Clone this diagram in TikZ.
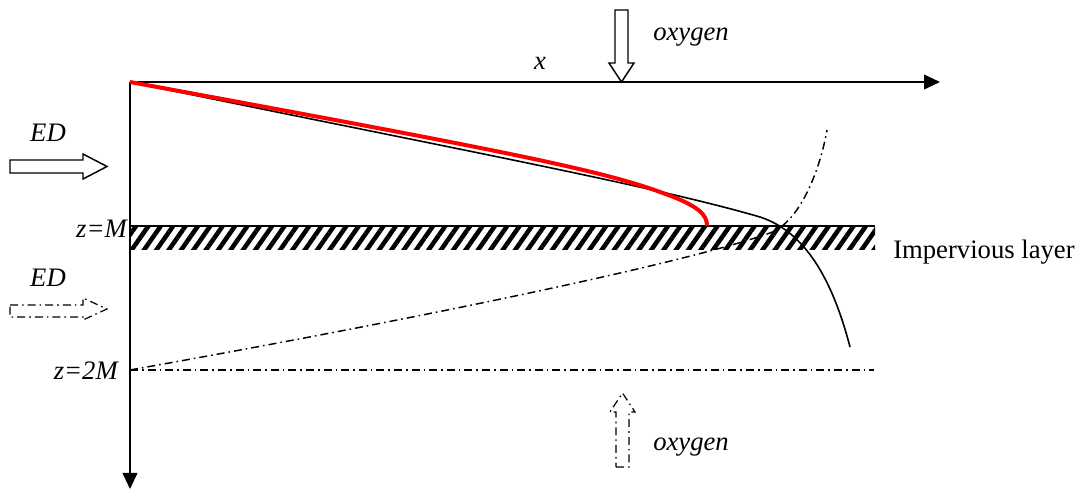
\documentclass[tikz,border=0pt]{standalone}
\usepackage{fontspec}
\setmainfont{Liberation Serif}
\usetikzlibrary{arrows.meta,patterns.meta}

\begin{document}
\begin{tikzpicture}[x=0.75pt,y=-0.75pt,
        lbl/.style={font=\fontsize{20}{24}\selectfont\itshape, inner sep=0pt},
        axis/.style={line width=1.4pt, -{Triangle[length=12pt,width=11pt]}},
        dashdot/.style={line width=1.1pt, dash pattern=on 6pt off 3pt on 1.2pt off 3pt},
        hollow/.style={line width=1.1pt, fill=white}]
    \useasboundingbox (0,0) rectangle (1083,491);

    % axes
    \coordinate (origin) at (130,82);
    \coordinate (xtip) at (940,82);
    \coordinate (ztip) at (130,489);

    % impervious layer
    \fill[pattern={Lines[angle=55,distance=7.6pt,line width=3.4pt]}] (130,226) rectangle (875,250);
    \draw[line width=1.2pt] (130,226) -- (875,226);
    \node[font=\fontsize{20}{24}\selectfont, inner sep=0pt, anchor=west] (layer) at (893,252) {Impervious layer};

    % depth z=2M
    \coordinate (twoM) at (130,370);
    \coordinate (twoMend) at (874,370);
    \draw[dashdot] (twoM) -- (twoMend);

    \draw[axis] (origin) -- (xtip);
    \draw[axis] (origin) -- (ztip);

    \node[lbl] (lblx) at (540,63) {x};
    \node[lbl, anchor=east] (lblM) at (127,229) {z=M};
    \node[lbl, anchor=east] (lbltwoM) at (118,371) {z=2M};

    % profiles
    \draw[line width=1.2pt] (origin) .. controls (450,148) and (650,185) .. (760,217)
        .. controls (800,230) and (830,270) .. (850,347);
    \draw[red, line width=3pt] (origin) .. controls (500,150) and (600,170) .. (660,192)
        .. controls (700,206) and (707,215) .. (707,226);
    \draw[dashdot] (twoM) .. controls (400,322) and (680,265) .. (770,233)
        .. controls (800,222) and (820,170) .. (827,130);

    % oxygen from above
    \draw[hollow] (615,10) -- (628,10) -- (628,63) -- (634,63) -- (621.5,82)
        -- (609,63) -- (615,63) -- cycle;
    \node[lbl] (oxtop) at (691,37) {oxygen};

    % oxygen from below
    \draw[dashdot, line width=0.9pt] (616,467) -- (629,467) -- (629,412) -- (635,412)
        -- (622.5,393) -- (610,412) -- (616,412) -- cycle;
    \node[lbl] (oxbot) at (691,447) {oxygen};

    % electron donor
    \draw[hollow] (10,160) -- (83,160) -- (83,154) -- (107,166.5) -- (83,179)
        -- (83,173) -- (10,173) -- cycle;
    \node[lbl] (edtop) at (48,133) {ED};
    \draw[dashdot, line width=0.9pt] (10,305) -- (83,305) -- (83,298) -- (107,309)
        -- (83,320) -- (83,317) -- (10,317) -- cycle;
    \node[lbl] (edbot) at (48,278) {ED};
\end{tikzpicture}
\end{document}
